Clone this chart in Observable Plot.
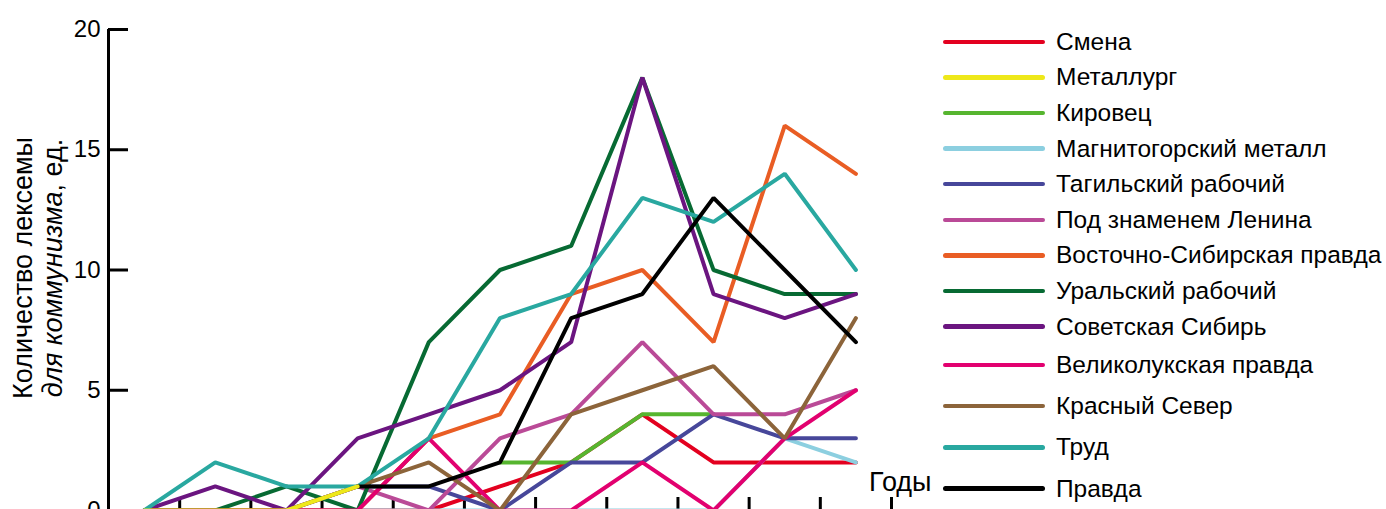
<!DOCTYPE html>
<html><head><meta charset="utf-8">
<script src="https://cdn.jsdelivr.net/npm/d3@7"></script>
<script src="https://cdn.jsdelivr.net/npm/@observablehq/plot@0.6"></script>
<style>
html,body{margin:0;padding:0;overflow:hidden;background:#fff;}
body{width:1386px;height:509px;position:relative;font-family:"Liberation Sans",Arial,sans-serif;color:#000;}
#chart{position:absolute;left:0;top:0;}
#ytitle{position:absolute;left:38px;top:268px;transform:translate(-50%,-50%) rotate(-90deg);font-size:27px;line-height:30px;text-align:center;white-space:nowrap;}
#legend{position:absolute;left:943px;top:24px;}
.row{display:flex;align-items:center;height:35.6px;font-size:24.5px;white-space:nowrap;}
.row.wide{height:41.2px;}
.swatch{width:102px;height:4.5px;border-radius:3px;margin-right:11px;flex:none;}
</style></head><body>
<div id="chart"></div>
<div id="ytitle">Количество лексемы<br><i>для коммунизма</i>, ед.</div>
<div id="legend"></div>
<script>
const periods = [0,1,2,3,4,5,6,7,8,9,10];
const tickBounds = [0.5,1.5,2.5,3.5,4.5,5.5,6.5,7.5,8.5,9.5,10.5];
const yTicks = [0,5,10,15,20];

const seriesNames = ["Смена","Металлург","Кировец","Магнитогорский металл","Тагильский рабочий","Под знаменем Ленина","Восточно-Сибирская правда","Уральский рабочий","Советская Сибирь","Великолукская правда","Красный Север","Труд","Правда"];
const seriesColors = ["#e3001f","#eee81a","#56b52f","#8ccfe0","#47479a","#ba4a97","#e95d24","#076a33","#6b1580","#e2006f","#8c643a","#29a8a0","#000000"];

const smena        = [0,0,0,0,0,1,2,4,2,2,2];
const metallurg    = [0,0,0,1,null,null,null,null,null,null,null];
const kirovets     = [null,null,null,null,null,2,2,4,4,null,null];
const magnitogorsk = [0,0,0,0,0,0,0,0,0,3,2];
const tagil        = [0,0,0,1,1,0,2,2,4,3,3];
const podZnamenem  = [0,0,0,1,0,3,4,7,4,4,5];
const vostSib      = [0,0,0,0,3,4,9,10,7,16,14];
const uralRab      = [0,0,1,0,7,10,11,18,10,9,9];
const sovSib       = [0,1,0,3,4,5,7,18,9,8,9];
const velikoluk    = [0,0,0,0,3,0,0,2,0,3,5];
const krasSever    = [0,0,0,1,2,0,4,5,6,3,8];
const trud         = [0,2,1,1,3,8,9,13,12,14,10];
const pravda       = [null,null,null,1,1,2,8,9,13,10,7];

const seriesValues = [smena,metallurg,kirovets,magnitogorsk,tagil,podZnamenem,vostSib,uralRab,sovSib,velikoluk,krasSever,trud,pravda];
const drawOrder = [0,2,3,4,5,6,7,8,9,10,11,12,1];
const wideRows = [9,10,11,12];

const rows = drawOrder.flatMap(i => periods.map((p, j) => ({series: seriesNames[i], x: p, y: seriesValues[i][j]})));
const xDomain = [periods[0] - 0.5, periods[periods.length - 1] + 0.5];

const font = '"Liberation Sans", Arial, sans-serif';
const chart = Plot.plot({
  width: 1386, height: 540,
  marginLeft: 108, marginRight: 495, marginTop: 29, marginBottom: 30,
  x: {domain: xDomain},
  y: {domain: [yTicks[0], yTicks[yTicks.length - 1]]},
  color: {domain: seriesNames, range: seriesColors},
  style: {fontFamily: font, fontSize: "24px", color: "#000", background: "transparent"},
  marks: [
    Plot.axisY({ticks: yTicks, tickSize: 20, dx: 20, tickFormat: () => "", strokeWidth: 3, label: null}),
    Plot.axisY({ticks: yTicks, tickSize: 0, tickPadding: 8, fontSize: 24, label: null}),
    Plot.axisX({ticks: tickBounds, tickSize: 13, dy: -13, tickFormat: () => "", strokeWidth: 3, label: null}),
    Plot.ruleX([xDomain[0]], {strokeWidth: 3}),
    Plot.ruleY([yTicks[0]], {strokeWidth: 3}),
    Plot.line(rows, {x: "x", y: "y", z: "series", stroke: "series", strokeWidth: 4, strokeLinejoin: "miter"}),
    Plot.text(["Годы"], {frameAnchor: "bottom-right", dx: 40, dy: -20, textAnchor: "end", fontSize: 27})
  ]
});
document.getElementById("chart").appendChild(chart);

const legend = document.getElementById("legend");
seriesNames.forEach((name, i) => {
  const row = document.createElement("div");
  row.className = "row" + (wideRows.includes(i) ? " wide" : "");
  const sw = document.createElement("span");
  sw.className = "swatch";
  sw.style.background = seriesColors[i];
  const label = document.createElement("span");
  label.textContent = name;
  row.appendChild(sw);
  row.appendChild(label);
  legend.appendChild(row);
});
</script>
</body></html>
